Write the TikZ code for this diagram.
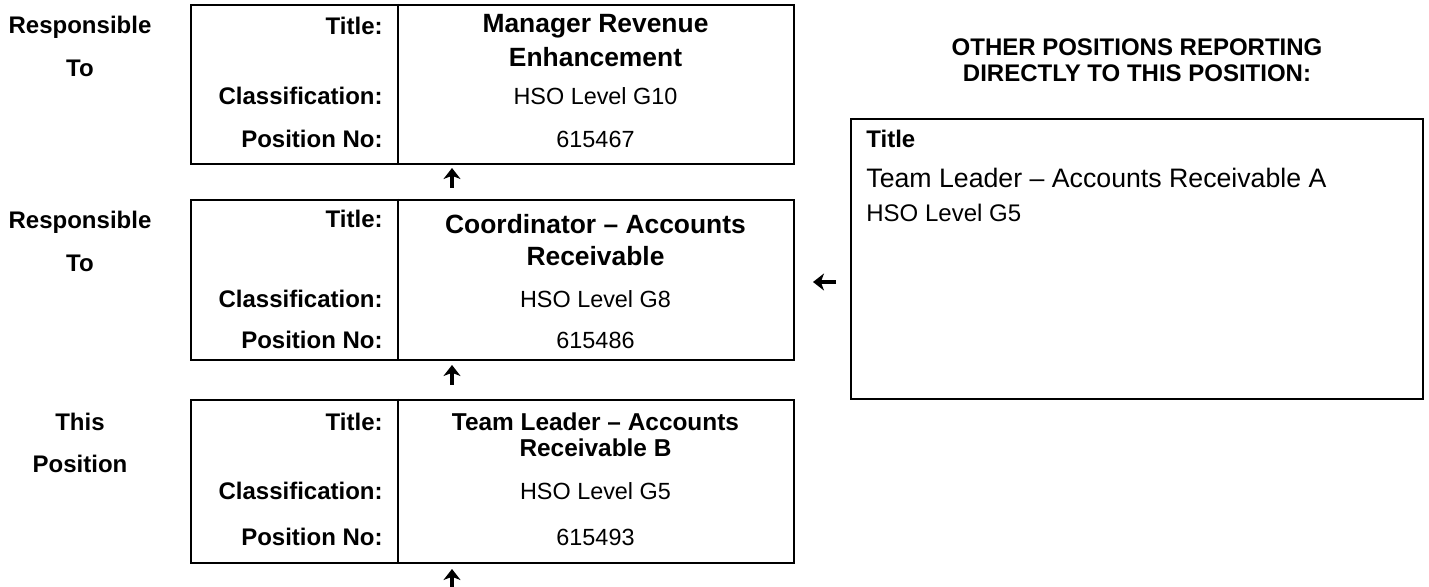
\documentclass[tikz,border=0pt]{standalone}
\usepackage{fontspec}
\setmainfont{Liberation Sans}
\usetikzlibrary{arrows.meta}
\begin{document}
\begin{tikzpicture}[x=0.5pt,y=-0.5pt,
  box/.style={draw, line width=1pt, inner sep=0pt, anchor=north west, minimum width=301.5pt},
  divline/.style={line width=0.9pt},
  lab/.style={anchor=base east, inner sep=0pt, font=\fontsize{12}{14}\selectfont\bfseries},
  side/.style={anchor=base, inner sep=0pt, font=\fontsize{12}{14}\selectfont\bfseries},
  ttl/.style={anchor=base, inner sep=0pt, font=\fontsize{13.2}{15}\selectfont\bfseries},
  ttlsmall/.style={anchor=base, inner sep=0pt, font=\fontsize{12.2}{14}\selectfont\bfseries},
  val/.style={anchor=base, inner sep=0pt, font=\fontsize{11.7}{14}\selectfont},
  hdr/.style={anchor=base, inner sep=0pt, font=\fontsize{12}{14}\selectfont\bfseries},
  rtext/.style={anchor=base west, inner sep=0pt},
  arr/.style={line width=2pt, -{Stealth[length=5.5pt,width=8.5pt,inset=1.6pt]}}
]
\useasboundingbox (0,0) rectangle (1429,587);

% boxes
\node[box, minimum height=79.5pt] (b1) at (190,4) {};
\node[box, minimum height=80pt] (b2) at (190,199) {};
\node[box, minimum height=81.5pt] (b3) at (190,399) {};
\node[draw, line width=1pt, inner sep=0pt, anchor=north west, minimum width=286pt, minimum height=140pt] (rb) at (850,118) {};

\coordinate (dv) at (398,0);
\draw[divline] (b1.north -| dv) -- (b1.south -| dv);
\draw[divline] (b2.north -| dv) -- (b2.south -| dv);
\draw[divline] (b3.north -| dv) -- (b3.south -| dv);

% side labels
\node[side] (s1a) at (80,34) {Responsible};
\node[side] (s1b) at (80,77) {To};
\node[side] (s2a) at (80,229) {Responsible};
\node[side] (s2b) at (80,272) {To};
\node[side] (s3a) at (80,430) {This};
\node[side] (s3b) at (80,473) {Position};

% box 1
\node[lab] (l1t) at (383,35) {Title:};
\node[lab] (l1c) at (383,105) {Classification:};
\node[lab] (l1p) at (383,148) {Position No:};
\node[ttl] (v1t1) at (595.5,33) {Manager Revenue};
\node[ttl] (v1t2) at (595.5,67) {Enhancement};
\node[val] (v1c) at (595.5,105) {HSO Level G10};
\node[val] (v1p) at (595.5,148) {615467};

% box 2
\node[lab] (l2t) at (383,228) {Title:};
\node[lab] (l2c) at (383,308) {Classification:};
\node[lab] (l2p) at (383,349) {Position No:};
\node[ttl] (v2t1) at (595.5,234) {Coordinator – Accounts};
\node[ttl] (v2t2) at (595.5,266) {Receivable};
\node[val] (v2c) at (595.5,308) {HSO Level G8};
\node[val] (v2p) at (595.5,349) {615486};

% box 3
\node[lab] (l3t) at (383,430) {Title:};
\node[lab] (l3c) at (383,499) {Classification:};
\node[lab] (l3p) at (383,545) {Position No:};
\node[ttlsmall] (v3t1) at (595.5,430) {Team Leader – Accounts};
\node[ttlsmall] (v3t2) at (595.5,457) {Receivable B};
\node[val] (v3c) at (595.5,499) {HSO Level G5};
\node[val] (v3p) at (595.5,545) {615493};

% right side
\node[hdr] (h1) at (1137,56) {OTHER POSITIONS REPORTING};
\node[hdr] (h2) at (1137,82) {DIRECTLY TO THIS POSITION:};
\node[rtext, font=\fontsize{12}{14}\selectfont\bfseries] (rt) at (866,148) {Title};
\node[rtext, font=\fontsize{13.35}{16}\selectfont] (rn) at (866,188) {Team Leader – Accounts Receivable A};
\node[rtext, font=\fontsize{12}{14}\selectfont] (rc) at (866,222) {HSO Level G5};

% arrows
\coordinate (a1s) at (452,188); \coordinate (a1e) at (452,168);
\coordinate (a2s) at (452,385); \coordinate (a2e) at (452,365);
\coordinate (a3s) at (452,588); \coordinate (a3e) at (452,569);
\coordinate (a4s) at (836,282); \coordinate (a4e) at (813,282);
\draw[arr] (a1s) -- (a1e);
\draw[arr] (a2s) -- (a2e);
\draw[arr] (a3s) -- (a3e);
\draw[arr] (a4s) -- (a4e);
\end{tikzpicture}
\end{document}
